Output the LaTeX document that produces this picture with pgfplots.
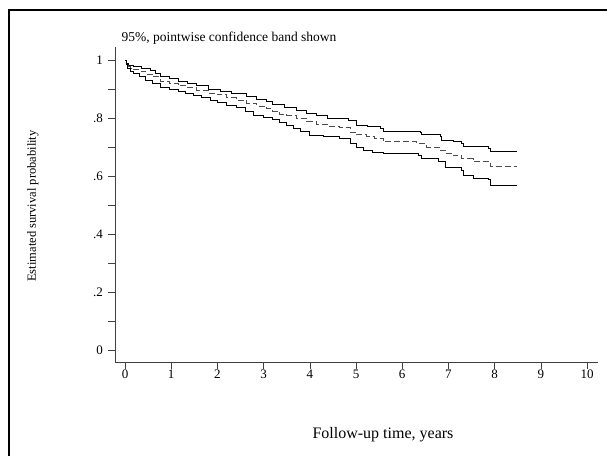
\documentclass[border=0pt]{standalone}
\usepackage{fontspec}
\setmainfont{Liberation Serif}
\usepackage{pgfplots}
\pgfplotsset{compat=1.18}

\begin{document}
\begin{tikzpicture}
\useasboundingbox (0,0) rectangle (607pt,456pt);
% frame
\draw[line width=1.6pt] (9pt,0pt) -- (9pt,446pt) -- (607pt,446pt);
\begin{axis}[
    at={(115pt,94pt)}, anchor=south west,
    scale only axis, width=483pt, height=315pt,
    xmin=-0.2165, xmax=10.238,
    ymin=-0.0414, ymax=1.0448,
    axis lines=left,
    axis line style={-, black!75, line width=0.8pt},
    tick align=outside,
    major tick length=7pt,
    tick style={black!75, line width=0.6pt},
    xtick={0,1,2,3,4,5,6,7,8,9,10},
    xticklabels={0,1,2,3,4,5,6,7,8,9,10},
    ytick={0,0.1,0.2,0.3,0.4,0.5,0.6,0.7,0.8,0.9,1},
    yticklabels={0,,.2,,.4,,.6,,.8,,1},
    ticklabel style={font=\fontsize{13}{15}\selectfont},
    xticklabel style={inner sep=1pt},
    yticklabel style={inner sep=2pt, xshift=-3pt},
    clip=false,
]
% upper 95% limit
\addplot[const plot, black, line width=0.7pt] coordinates {
(0,1.0) (0.02,0.99) (0.08,0.982) (0.18,0.977) (0.35,0.970) (0.54,0.963)
(0.65,0.955) (0.76,0.945) (0.95,0.937) (1.15,0.928) (1.34,0.919) (1.55,0.911)
(1.8,0.900) (2.06,0.891) (2.3,0.884) (2.63,0.874) (2.85,0.865) (3.07,0.857)
(3.2,0.848) (3.45,0.838) (3.7,0.826) (3.93,0.816) (4.15,0.808) (4.37,0.800)
(4.83,0.793) (5.01,0.776) (5.25,0.770) (5.52,0.764) (5.59,0.755) (6.39,0.750)
(6.42,0.742) (6.82,0.737) (6.85,0.724) (7.1,0.718) (7.29,0.712) (7.32,0.703)
(7.86,0.695) (7.9,0.686) (8.48,0.686)
};
% survival estimate
\addplot[const plot, black!70, line width=0.7pt, dash pattern=on 6pt off 3pt] coordinates {
(0,1.0) (0.02,0.987) (0.06,0.981) (0.08,0.977) (0.12,0.972) (0.18,0.967)
(0.32,0.962) (0.45,0.952) (0.6,0.943) (0.76,0.927) (0.95,0.920) (1.15,0.912)
(1.34,0.904) (1.55,0.897) (1.8,0.886) (2.0,0.880) (2.2,0.870) (2.4,0.862)
(2.63,0.851) (2.85,0.840) (3.07,0.832) (3.2,0.824) (3.35,0.814) (3.5,0.810)
(3.7,0.799) (3.93,0.788) (4.15,0.778) (4.37,0.771) (4.65,0.768) (4.87,0.750)
(5.01,0.742) (5.23,0.737) (5.4,0.730) (5.59,0.718) (6.31,0.712) (6.53,0.700)
(6.82,0.690) (6.93,0.678) (7.1,0.670) (7.29,0.660) (7.54,0.650) (7.9,0.633)
(8.48,0.633)
};
% lower 95% limit
\addplot[const plot, black, line width=0.7pt] coordinates {
(0,1.0) (0.02,0.985) (0.06,0.97) (0.12,0.96) (0.18,0.954) (0.32,0.943)
(0.45,0.93) (0.6,0.918) (0.76,0.906) (0.95,0.900) (1.15,0.893) (1.3,0.886)
(1.48,0.879) (1.65,0.870) (1.85,0.862) (2.0,0.855) (2.2,0.845) (2.4,0.835)
(2.6,0.822) (2.78,0.810) (3.0,0.802) (3.2,0.795) (3.35,0.786) (3.5,0.776)
(3.65,0.765) (3.8,0.755) (4.0,0.741) (4.3,0.735) (4.65,0.730) (4.87,0.712)
(5.0,0.700) (5.16,0.690) (5.35,0.683) (5.59,0.678) (6.35,0.672) (6.42,0.661)
(6.78,0.650) (6.93,0.630) (7.29,0.621) (7.32,0.603) (7.54,0.592) (7.86,0.589)
(7.9,0.569) (8.48,0.569)
};
\end{axis}
\node[anchor=base west, font=\fontsize{13.5}{15}\selectfont] at (118pt,414pt)
  {95\%, pointwise confidence band shown};
\node[rotate=90, font=\fontsize{12.5}{14}\selectfont] at (33pt,250pt)
  {Estimated survival probability};
\node[anchor=base, font=\fontsize{16}{18}\selectfont] at (383pt,18pt)
  {Follow-up time, years};
\end{tikzpicture}
\end{document}
